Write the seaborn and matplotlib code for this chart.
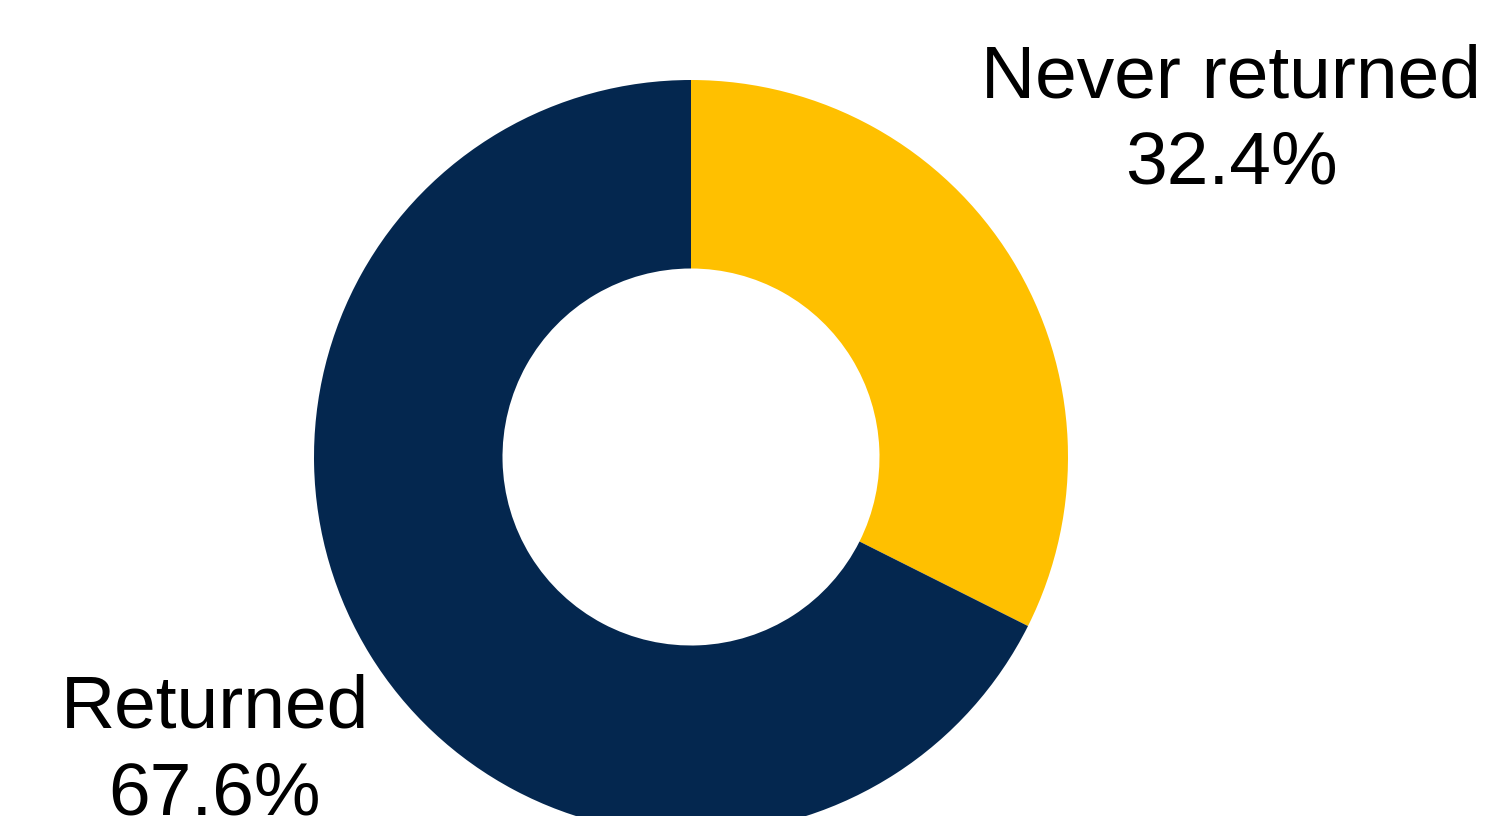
import matplotlib
matplotlib.use("Agg")
import matplotlib.pyplot as plt
import seaborn as sns

labels = ["Never returned", "Returned"]
values = [32.4, 67.6]
colors = ["#FFC000", "#04274F"]

sns.set_theme(style="white")
plt.rcParams['font.family'] = ['Liberation Sans', 'DejaVu Sans']

fig = plt.figure(figsize=(14.85, 8.16), dpi=100)
ax = fig.add_axes([0, 0, 1, 1])
W, H = 1485, 816
cx, cy, r = 691, H - 457, 377
ax.pie(values, colors=colors, startangle=90, counterclock=False,
       center=(cx, cy), radius=r,
       wedgeprops=dict(width=r * 0.5, edgecolor="none", linewidth=0))
ax.set_xlim(0, W)
ax.set_ylim(0, H)
ax.set_aspect("equal")
ax.axis("off")

label_pos = [(1231, H - 43), (215, H - 674)]
for lab, val, (x, y) in zip(labels, values, label_pos):
    ax.text(x, y, f"{lab}\n{val:.1f}%", ha="center", va="top",
            fontsize=54, color="black", linespacing=1.32)

fig.savefig("out.png", dpi=100)
